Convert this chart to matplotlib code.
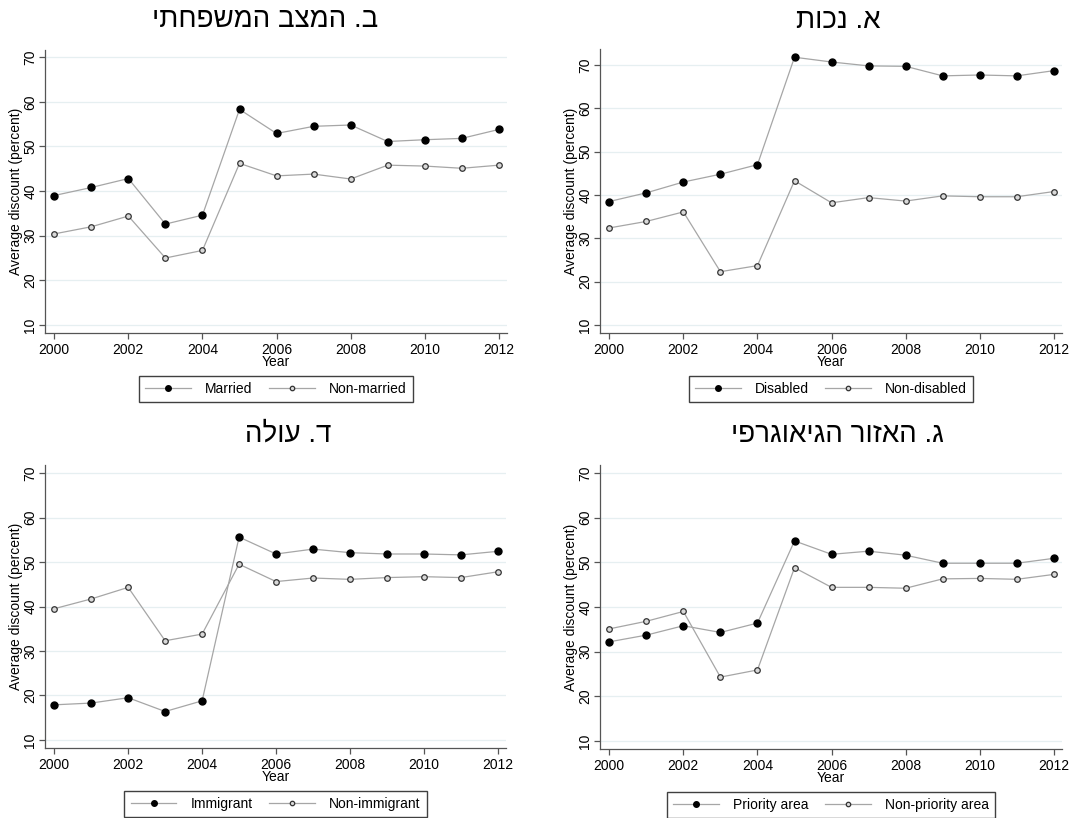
import matplotlib
matplotlib.use("Agg")
import matplotlib.pyplot as plt

plt.rcParams["font.family"] = ["Liberation Sans", "DejaVu Sans"]

years = list(range(2000, 2013))

# panel titles (logical Hebrew order)
title_disab = "א. נכות"
title_marital = "ב. המצב המשפחתי"
title_area = "ג. האזור הגיאוגרפי"
title_immig = "ד. עולה"

married = [39.0, 40.8, 42.8, 32.6, 34.6, 58.3, 52.9, 54.5, 54.8, 51.1, 51.5, 51.8, 53.8]
non_married = [30.4, 32.0, 34.4, 25.0, 26.7, 46.2, 43.4, 43.8, 42.7, 45.8, 45.6, 45.1, 45.8]

disabled = [38.5, 40.5, 43.0, 44.8, 47.0, 71.8, 70.7, 69.8, 69.7, 67.5, 67.7, 67.5, 68.7]
non_disabled = [32.4, 33.9, 36.1, 22.3, 23.7, 43.3, 38.2, 39.4, 38.6, 39.8, 39.6, 39.6, 40.8]

immigrant = [17.9, 18.3, 19.5, 16.4, 18.8, 55.6, 51.8, 52.9, 52.1, 51.8, 51.8, 51.6, 52.4]
non_immigrant = [39.5, 41.7, 44.3, 32.3, 33.8, 49.5, 45.6, 46.4, 46.1, 46.5, 46.7, 46.5, 47.8]

priority = [32.2, 33.7, 35.8, 34.3, 36.4, 54.8, 51.8, 52.5, 51.6, 49.8, 49.8, 49.8, 50.9]
non_priority = [35.1, 36.8, 39.0, 24.3, 25.9, 48.8, 44.4, 44.4, 44.2, 46.3, 46.4, 46.2, 47.3]

W, H = 1075, 818
fig = plt.figure(figsize=(W / 100, H / 100), dpi=100)


def px_axes(left, top, right, bottom):
    return fig.add_axes([left / W, 1 - bottom / H, (right - left) / W, (bottom - top) / H])


panels = [
    # (box, ylim, title, title_center, title_y, series A, label A, series B, label B)
    ((45, 50, 507, 333), (8.2, 71.6), title_marital, 265, 20, married, "Married", non_married, "Non-married"),
    ((600, 49, 1062, 333), (8.15, 73.7), title_disab, 838, 21, disabled, "Disabled", non_disabled, "Non-disabled"),
    ((45, 465, 506, 748), (8.2, 71.8), title_immig, 288, 435, immigrant, "Immigrant", non_immigrant, "Non-immigrant"),
    ((600, 465, 1062, 749), (8.2, 71.8), title_area, 837, 435, priority, "Priority area", non_priority, "Non-priority area"),
]

line_col = "#a6a6a6"
axis_col = "#555555"

for box, ylim, title, tx, ty, a, la, b, lb in panels:
    ax = px_axes(*box)
    ax.plot(years, a, color=line_col, lw=0.9, marker="o", ms=5.0,
            mfc="black", mec="black", label=la, zorder=3)
    ax.plot(years, b, color=line_col, lw=0.9, marker="o", ms=4.0,
            mfc="#d9d9d9", mec="#333333", mew=0.9, label=lb, zorder=3)
    ax.set_xlim(1999.75, 2012.22)
    ax.set_ylim(*ylim)
    ax.set_xticks(range(2000, 2013, 2))
    ax.set_yticks(range(10, 71, 10))
    ax.yaxis.grid(True, color="#e6eff1", lw=0.9)
    ax.set_axisbelow(True)
    for s in ("top", "right"):
        ax.spines[s].set_visible(False)
    for s in ("left", "bottom"):
        ax.spines[s].set_color(axis_col)
        ax.spines[s].set_linewidth(0.9)
    ax.tick_params(axis="both", colors=axis_col, length=4, width=0.9, labelsize=10,
                   labelcolor="black")
    ax.tick_params(axis="y", pad=1.5)
    ax.tick_params(axis="x", pad=3)
    for lab in ax.get_yticklabels():
        lab.set_rotation(90)
        lab.set_va("center")
    ax.set_xlabel("Year", fontsize=10, labelpad=-1)
    ax.set_ylabel("Average discount (percent)", fontsize=10)
    # y label sits about 22 px left of the spine
    ax.yaxis.set_label_coords(-22 / (box[2] - box[0]), 0.5)
    leg = ax.legend(loc="center", bbox_to_anchor=(0.5, -0.198), ncol=2, fontsize=10,
                    frameon=True, fancybox=False, edgecolor="#404040", framealpha=1,
                    handlelength=3.3, handletextpad=1.0, columnspacing=1.2,
                    markerscale=0.8, borderpad=0.45)
    leg.get_frame().set_linewidth(1.0)
    # matplotlib draws left-to-right, so Hebrew is reversed for display
    fig.text(tx / W, 1 - ty / H, title[::-1], ha="center", va="center", fontsize=20)

fig.savefig("out.png", dpi=100)
